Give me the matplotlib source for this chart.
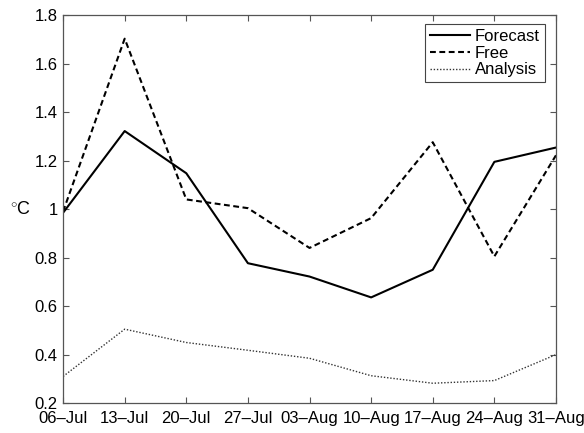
import matplotlib
matplotlib.use("Agg")
import matplotlib.pyplot as plt

# weekly dates and error values per run
dates = ["06–Jul", "13–Jul", "20–Jul", "27–Jul", "03–Aug",
         "10–Aug", "17–Aug", "24–Aug", "31–Aug"]
forecast = [0.985, 1.322, 1.148, 0.777, 0.722, 0.636, 0.75, 1.195, 1.254]
free = [0.99, 1.703, 1.04, 1.004, 0.84, 0.963, 1.276, 0.805, 1.222]
analysis = [0.31, 0.505, 0.45, 0.418, 0.385, 0.313, 0.282, 0.293, 0.40]

plt.rcParams["font.family"] = ["Liberation Sans", "DejaVu Sans"]
plt.rcParams["mathtext.fontset"] = "custom"
plt.rcParams["mathtext.rm"] = "Liberation Sans"

fig = plt.figure(figsize=(5.84, 4.33), dpi=100)
ax = fig.add_axes([0.108, 0.069, 0.844, 0.896])

x = list(range(len(dates)))
ax.plot(x, forecast, color="black", lw=1.5, label="Forecast")
ax.plot(x, free, color="black", lw=1.5, dashes=(2.8, 1.7), label="Free")
ax.plot(x, analysis, color="#333333", lw=1.0, linestyle=(0, (1, 1.3)),
        label="Analysis")

ax.set_xlim(0, 8)
ax.set_ylim(0.2, 1.8)
ax.set_xticks(x)
ax.set_xticklabels(dates)
ax.set_yticks([0.2, 0.4, 0.6, 0.8, 1.0, 1.2, 1.4, 1.6, 1.8])
ax.set_yticklabels(["0.2", "0.4", "0.6", "0.8", "1", "1.2", "1.4", "1.6", "1.8"])
ax.tick_params(direction="in", length=4, width=0.8, colors="#555555",
               labelcolor="black", labelsize=12, top=True, right=True)
ax.tick_params(axis="x", pad=6)
ax.tick_params(axis="y", pad=4)
for s in ax.spines.values():
    s.set_color("#555555")
    s.set_linewidth(0.9)

ax.set_ylabel(r"$^{\circ}$C", rotation=0, fontsize=13, labelpad=10, va="center")

leg = ax.legend(loc="upper right", bbox_to_anchor=(0.977, 0.977), fontsize=12,
                fancybox=False, framealpha=1, edgecolor="#444444",
                handlelength=2.4, handletextpad=0.3, borderpad=0.3,
                labelspacing=0.1, borderaxespad=0)
leg.get_frame().set_linewidth(0.8)

fig.savefig("out.png", dpi=100)
